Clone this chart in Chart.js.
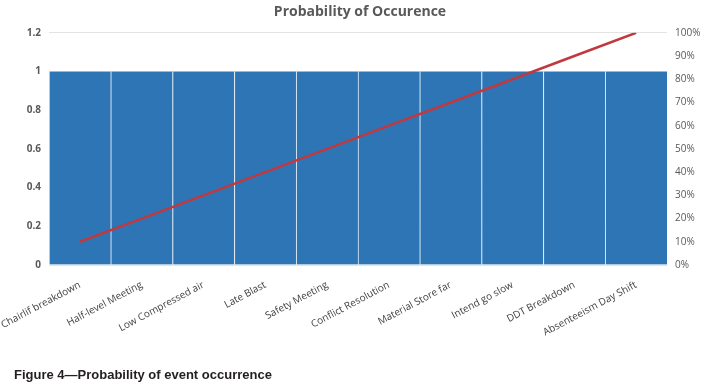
<!DOCTYPE html>
<html>
<head>
<meta charset="utf-8">
<script src="https://cdn.jsdelivr.net/npm/chart.js@4"></script>
<style>
  html, body { margin: 0; padding: 0; background: #fff; }
  #wrap { position: relative; width: 720px; height: 388px; }
  #caption {
    position: absolute; left: 14px; top: 367px;
    font: bold 13px "Liberation Sans", Arial, sans-serif; color: #231f20;
  }
</style>
</head>
<body>
<div id="wrap">
  <canvas id="chart" width="720" height="388"></canvas>
  <div id="caption">Figure 4—Probability of event occurrence</div>
</div>
<script>
// Probability of occurrence (Pareto style)

const categories = [
    "Chairlif breakdown", "Half-level Meeting", "Low Compressed air", "Late Blast",
    "Safety Meeting", "Conflict Resolution", "Material Store far", "Intend go slow",
    "DDT Breakdown", "Absenteeism Day Shift"
];
const probability = [1, 1, 1, 1, 1, 1, 1, 1, 1, 1];
const cumulativePct = [10, 20, 30, 40, 50, 60, 70, 80, 90, 100];
const leftTicks  = [0, 0.2, 0.4, 0.6, 0.8, 1, 1.2];
const rightTicks = [0, 10, 20, 30, 40, 50, 60, 70, 80, 90, 100];

const PLOT_LEFT = 49, PLOT_RIGHT = 667, PLOT_BOTTOM = 265;

new Chart(document.getElementById("chart"), {
    data: {
        labels: categories,
        datasets: [
            {
                type: "line", label: "Cumulative", data: cumulativePct, yAxisID: "y1",
                borderColor: "#c0393f", borderWidth: 2.5, pointRadius: 0, tension: 0, order: 0
            },
            {
                type: "bar", label: "Probability", data: probability, yAxisID: "y",
                backgroundColor: "#2e75b6", borderColor: "rgba(235,242,250,0.85)",
                borderWidth: { left: 1, right: 0, top: 0, bottom: 0 }, borderSkipped: false,
                barPercentage: 1, categoryPercentage: 1, order: 1
            }
        ]
    },
    options: {
        responsive: false,
        animation: false,
        layout: { padding: 0 },
        plugins: {
            legend: { display: false },
            tooltip: { enabled: false },
            title: {
                display: true, text: "Probability of Occurence", color: "#595959",
                font: { family: "Open Sans", size: 14, weight: "bold" },
                padding: { top: 4, bottom: 12 }
            }
        },
        scales: {
            x: {
                grid: { display: false }, border: { display: false },
                ticks: {
                    color: "#404040", font: { family: "Open Sans", size: 10 },
                    minRotation: 28, maxRotation: 28, padding: 6, autoSkip: false
                },
                afterFit: function (s) {
                    s.height = 388 - PLOT_BOTTOM;
                    s.paddingLeft = 0; s.paddingRight = 0;
                }
            },
            y: {
                position: "left", min: 0, max: 1.2,
                afterBuildTicks: function (s) { s.ticks = leftTicks.map(function (v) { return { value: v }; }); },
                grid: { color: "#e3e3e3", drawTicks: false }, border: { display: false },
                ticks: {
                    color: "#595959", padding: 8, font: { family: "Open Sans", size: 10, weight: "bold" },
                    callback: function (v) { return String(v); }
                },
                afterFit: function (s) { s.width = PLOT_LEFT; }
            },
            y1: {
                position: "right", min: 0, max: 100,
                afterBuildTicks: function (s) { s.ticks = rightTicks.map(function (v) { return { value: v }; }); },
                grid: { display: false, drawTicks: false }, border: { display: false },
                ticks: {
                    color: "#595959", padding: 8, font: { family: "Open Sans", size: 10 },
                    callback: function (v) { return v + "%"; }
                },
                afterFit: function (s) { s.width = 720 - PLOT_RIGHT; }
            }
        }
    }
});
</script>
</body>
</html>
